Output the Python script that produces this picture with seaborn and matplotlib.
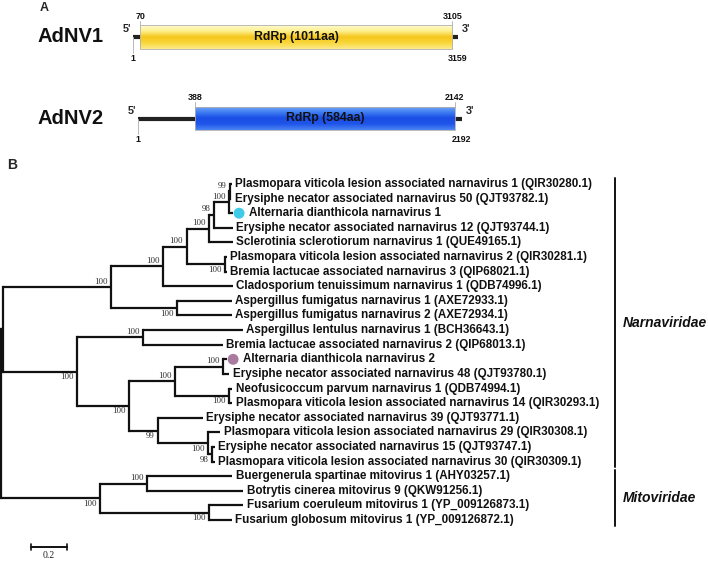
import numpy as np
import matplotlib
matplotlib.use("Agg")
import matplotlib.pyplot as plt
from matplotlib.colors import LinearSegmentedColormap
import seaborn as sns

# ---- panel A: genome organisation ----
genome_names = ["AdNV1", "AdNV2"]
genome_len = [3159, 2192]
orf_start = [70, 388]
orf_end = [3105, 2142]
orf_labels = ["RdRp (1011aa)", "RdRp (584aa)"]

# ---- panel B: tree (parents precede children) ----
node_ids = ["root", "narna", "A1", "A2", "A3", "A4", "A5", "A6", "A7", "P2B3", "AF",
            "B1", "B2", "B3", "B4", "B5", "B6", "B7", "B8", "B9", "M1", "M2", "M3"]
node_parent = [None, "root", "narna", "A1", "A2", "A3", "A4", "A5", "A6", "A3", "A1",
               "narna", "B1", "B1", "B3", "B3", "B4", "B4", "B5", "B8", "root", "M1", "M1"]
node_len = [0.0, 0.014, 0.600, 0.287, 0.133, 0.124, 0.028, 0.082, 0.007, 0.213, 0.365,
            0.411, 0.365, 0.289, 0.256, 0.163, 0.265, 0.302, 0.278, 0.022, 0.553, 0.263, 0.604]
node_support = [None, None, 100, 100, 100, 100, 98, 100, 99, 100, 100,
                100, 100, 100, 100, 99, 100, 100, 100, 98, 100, 100, 100]

leaf_names = [
    "Plasmopara viticola lesion associated narnavirus 1 (QIR30280.1)",
    "Erysiphe necator associated narnavirus 50 (QJT93782.1)",
    "Alternaria dianthicola narnavirus 1",
    "Erysiphe necator associated narnavirus 12 (QJT93744.1)",
    "Sclerotinia sclerotiorum narnavirus 1 (QUE49165.1)",
    "Plasmopara viticola lesion associated narnavirus 2 (QIR30281.1)",
    "Bremia lactucae associated narnavirus 3 (QIP68021.1)",
    "Cladosporium tenuissimum narnavirus 1 (QDB74996.1)",
    "Aspergillus fumigatus narnavirus 1 (AXE72933.1)",
    "Aspergillus fumigatus narnavirus 2 (AXE72934.1)",
    "Aspergillus lentulus narnavirus 1 (BCH36643.1)",
    "Bremia lactucae associated narnavirus 2 (QIP68013.1)",
    "Alternaria dianthicola narnavirus 2",
    "Erysiphe necator associated narnavirus 48 (QJT93780.1)",
    "Neofusicoccum parvum narnavirus 1 (QDB74994.1)",
    "Plasmopara viticola lesion associated narnavirus 14 (QIR30293.1)",
    "Erysiphe necator associated narnavirus 39 (QJT93771.1)",
    "Plasmopara viticola lesion associated narnavirus 29 (QIR30308.1)",
    "Erysiphe necator associated narnavirus 15 (QJT93747.1)",
    "Plasmopara viticola lesion associated narnavirus 30 (QIR30309.1)",
    "Buergenerula spartinae mitovirus 1 (AHY03257.1)",
    "Botrytis cinerea mitovirus 9 (QKW91256.1)",
    "Fusarium coeruleum mitovirus 1 (YP_009126873.1)",
    "Fusarium globosum mitovirus 1 (YP_009126872.1)",
]
leaf_parent = ["A7", "A7", "A6", "A5", "A4", "P2B3", "P2B3", "A2", "AF", "AF",
               "B2", "B2", "B6", "B6", "B7", "B7", "B5", "B8", "B9", "B9",
               "M2", "M2", "M3", "M3"]
leaf_len = [0.011, 0.008, 0.024, 0.104, 0.133, 0.011, 0.011, 0.389, 0.306, 0.307,
            0.557, 0.446, 0.024, 0.035, 0.015, 0.015, 0.248, 0.065, 0.013, 0.013,
            0.471, 0.532, 0.191, 0.129]
marked_leaves = ["Alternaria dianthicola narnavirus 1", "Alternaria dianthicola narnavirus 2"]
families = ["Narnaviridae", "Mitoviridae"]
family_first = [0, 20]
family_last = [19, 23]

# styling
support_side = {"A1": 1, "A2": 1, "A3": 1, "A4": 1, "A5": 1, "A6": 1, "A7": 1, "P2B3": -1,
                "AF": -1, "B1": -1, "B2": 1, "B3": -1, "B4": 1, "B5": -1, "B6": 1, "B7": -1,
                "B8": -1, "B9": -1, "M1": -1, "M2": 1, "M3": -1}
marker_colors = ["#3fcbe8", "#a97b9f"]

sns.set_theme(style="white")
plt.rcParams["font.family"] = ["Liberation Sans", "DejaVu Sans"]

W, H = 708, 561
fig = plt.figure(figsize=(W / 100, H / 100), dpi=100)
fig.patch.set_facecolor("white")


def px_axes(x0, y0, x1, y1):
    return fig.add_axes([x0 / W, 1 - y1 / H, (x1 - x0) / W, (y1 - y0) / H])


# ================= panel B =================
PPU = 180.0       # pixels per substitution unit
ROOT_PX = 0.5
LEAF0_PX = 184.0
STEP = 14.61
axt = px_axes(0, 0, W, H)
axt.set_xlim(-ROOT_PX / PPU, (W - ROOT_PX) / PPU)
axt.set_ylim((H - LEAF0_PX) / STEP, -LEAF0_PX / STEP)
axt.axis("off")
axt.patch.set_alpha(0)

xpos, ypos = {}, {}
for n, p, l in zip(node_ids, node_parent, node_len):
    xpos[n] = 0.0 if p is None else xpos[p] + l
leaf_x = [xpos[p] + l for p, l in zip(leaf_parent, leaf_len)]
children = {n: [] for n in node_ids}
for i, p in enumerate(leaf_parent):
    children[p].append(float(i))
for n in reversed(node_ids):
    ys = children[n]
    ypos[n] = (min(ys) + max(ys)) / 2
    p = node_parent[node_ids.index(n)]
    if p is not None:
        children[p].append(ypos[n])

lc = "#111111"
lw = 1.6
for n, p in zip(node_ids, node_parent):
    ys = children[n]
    axt.plot([xpos[n], xpos[n]], [min(ys), max(ys)], color=lc, lw=lw, solid_capstyle="projecting")
    if p is not None:
        axt.plot([xpos[p], xpos[n]], [ypos[n], ypos[n]], color=lc, lw=lw, solid_capstyle="butt")
for i, p in enumerate(leaf_parent):
    axt.plot([xpos[p], leaf_x[i]], [i, i], color=lc, lw=lw, solid_capstyle="butt")

for n, s in zip(node_ids, node_support):
    if s is None:
        continue
    side = support_side[n]
    axt.annotate(str(s), xy=(xpos[n], ypos[n]), xytext=(-2.5, 4.0 * side), textcoords="offset points",
                 ha="right", va="center", fontsize=6.5, family="Liberation Serif", color="#333333")

mk_x, mk_y = [], []
for i, name in enumerate(leaf_names):
    off = 2.5
    if name in marked_leaves:
        mk_x.append(leaf_x[i] + 6.0 / PPU)
        mk_y.append(i)
        off = 11.5
    axt.annotate(name, xy=(leaf_x[i], i), xytext=(off, 0), textcoords="offset points",
                 ha="left", va="center", fontsize=8.4, fontweight="bold", color="#111111")
sns.scatterplot(x=mk_x, y=mk_y, hue=marked_leaves, palette=marker_colors, ax=axt, s=62,
                edgecolor="none", legend=False, zorder=5)

bx = (615 - ROOT_PX) / PPU
for fam, a, b in zip(families, family_first, family_last):
    axt.plot([bx, bx], [a - 0.4, b + 0.4], color=lc, lw=1.4)
    axt.text(bx + 8 / PPU, (a + b) / 2, fam, ha="left", va="center", fontsize=10,
             fontweight="bold", fontstyle="italic", color="#111111")

# scale bar
sb_x0 = (30.7 - ROOT_PX) / PPU
sb_y = (547 - LEAF0_PX) / STEP
axt.plot([sb_x0, sb_x0 + 0.2], [sb_y, sb_y], color=lc, lw=1.4)
for xx in (sb_x0, sb_x0 + 0.2):
    axt.plot([xx, xx], [sb_y - 0.22, sb_y + 0.22], color=lc, lw=1.2)
axt.text(sb_x0 + 0.1, sb_y + 0.6, "0.2", ha="center", va="center", fontsize=7,
         family="Liberation Serif", color="#222222")

fig.text(7 / W, 1 - 165 / H, "B", fontsize=10, fontweight="bold", ha="left", va="center")

# ================= panel A =================
yellow = LinearSegmentedColormap.from_list("y", ["#fffbd0", "#fdf08c", "#f6c619", "#f9d83c", "#fde98a"])
blue = LinearSegmentedColormap.from_list("b", ["#7aa8f7", "#3f7ef2", "#1a4de6", "#1f55ea", "#4b84f2"])
cmaps = [yellow, blue]
ax_px = [(133, 37), (138, 118.5)]
ax_px_end = [458, 462]
for g in range(2):
    x0, yc = ax_px[g]
    ax = px_axes(x0, yc - 30, ax_px_end[g], yc + 30)
    ax.set_xlim(1, genome_len[g])
    ax.set_ylim(1.25, -1.25)
    ax.axis("off")
    ax.patch.set_alpha(0)
    ax.plot([1, genome_len[g]], [0, 0], color="#222222", lw=3.0, solid_capstyle="butt", zorder=1)
    bars = ax.barh([0], [orf_end[g] - orf_start[g]], left=[orf_start[g]], height=1.0,
                   color="none", edgecolor="#b0b0b0", linewidth=0.6, zorder=3)
    grad = np.linspace(0, 1, 64).reshape(-1, 1)
    im = ax.imshow(grad, cmap=cmaps[g], aspect="auto", zorder=2,
                   extent=[orf_start[g], orf_end[g], 0.5, -0.5])
    im.set_clip_path(bars.patches[0])
    ax.text((orf_start[g] + orf_end[g]) / 2, 0, orf_labels[g], ha="center", va="center",
            fontsize=8.8, fontweight="bold", color="#111111", zorder=4)
    for pos in (orf_start[g], orf_end[g]):
        ax.plot([pos, pos], [-0.5, -0.68], color="#b8b8b8", lw=0.7)
        ax.text(pos, -0.86, str(pos), ha="center", va="center", fontsize=6.4,
                fontweight="bold", color="#111111")
    for pos in (1, genome_len[g]):
        ax.plot([pos, pos], [0, 0.66], color="#b8b8b8", lw=0.7)
        ax.text(pos, 0.88, str(pos), ha="center", va="center", fontsize=6.4,
                fontweight="bold", color="#111111")
    ax.annotate("5'", xy=(1, 0), xytext=(-1.5, 5.5), textcoords="offset points", ha="right",
                va="center", fontsize=7.8, fontweight="bold")
    ax.annotate("3'", xy=(genome_len[g], 0), xytext=(2.5, 5.5), textcoords="offset points",
                ha="left", va="center", fontsize=7.8, fontweight="bold")
    fig.text(71 / W, 1 - yc / H, genome_names[g], ha="center", va="center", fontsize=14.5,
             fontweight="bold", color="#111111")

fig.text(40 / W, 1 - 8 / H, "A", fontsize=9, fontweight="bold", ha="left", va="center")

fig.savefig("out.png", dpi=100, facecolor="white")
